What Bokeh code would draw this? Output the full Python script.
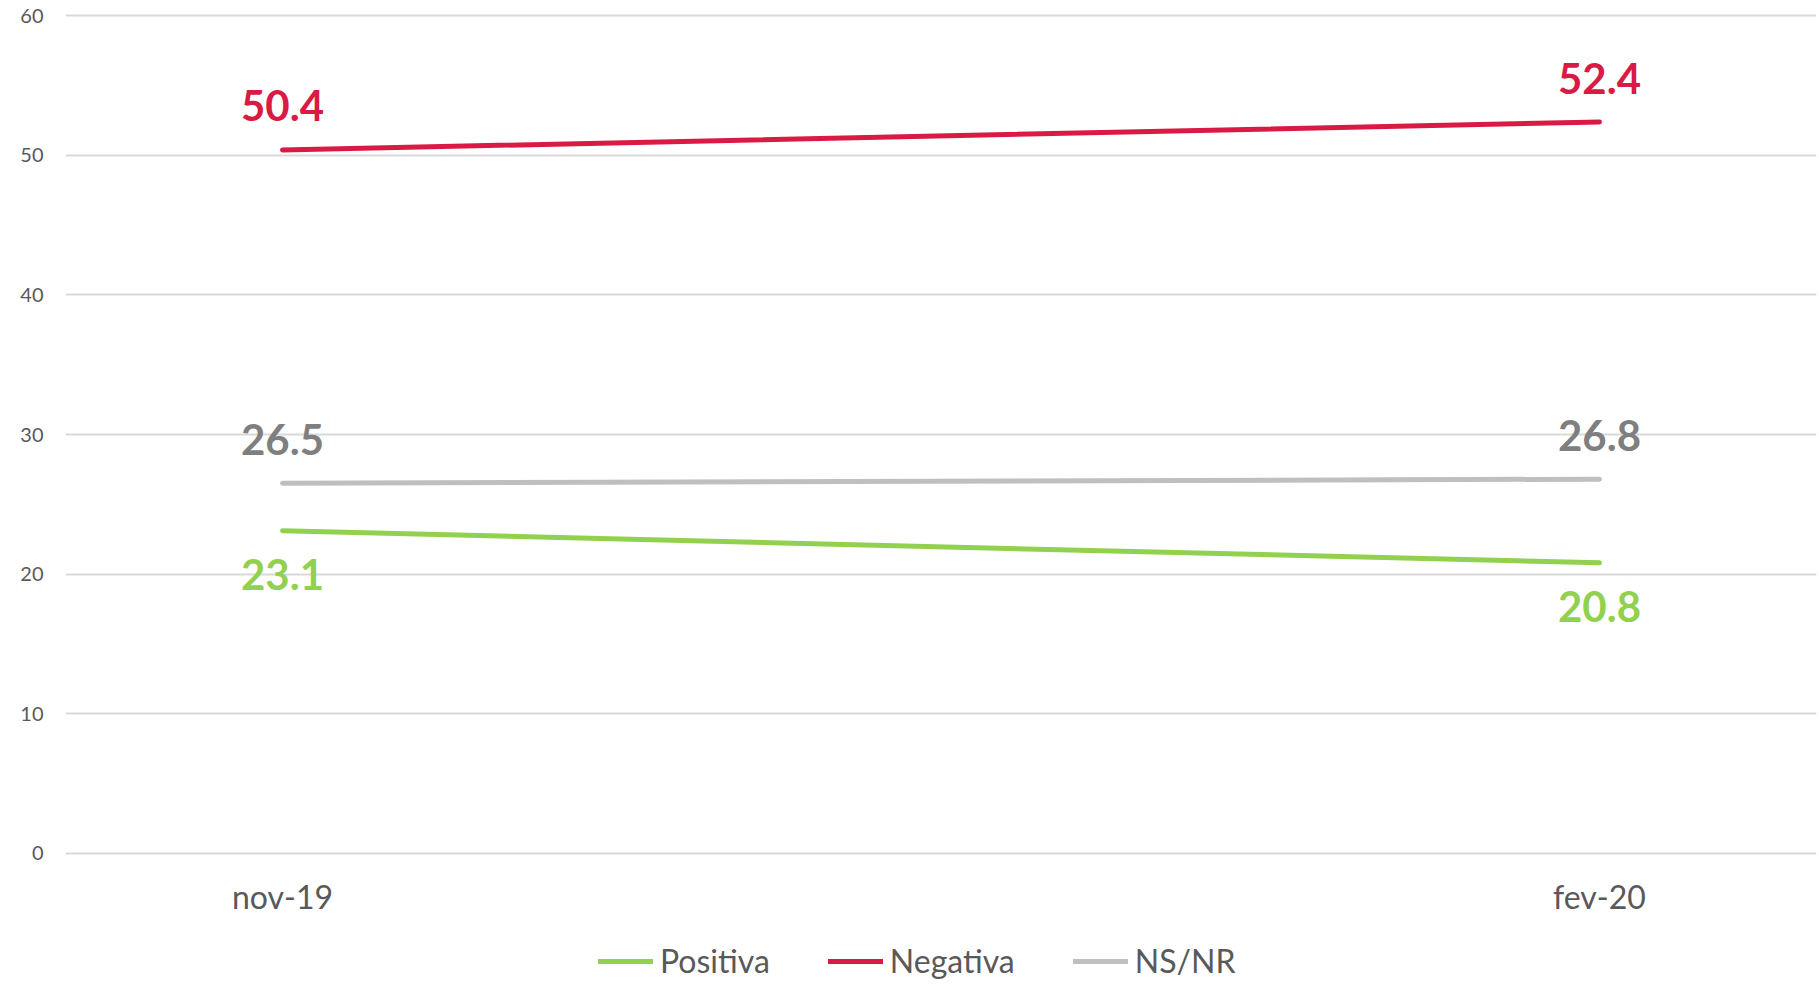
from bokeh.plotting import figure
from bokeh.models import Range1d, FixedTicker, Legend, LegendItem, ColumnDataSource
from bokeh.layouts import column
from bokeh.core.properties import value
from bokeh.embed import file_html
from bokeh.resources import INLINE

# ---- data ----
categories = ["nov-19", "fev-20"]
positiva = [23.1, 20.8]
negativa = [50.4, 52.4]
nsnr = [26.5, 26.8]
series_names = ["Positiva", "Negativa", "NS/NR"]
y_ticks = [0, 10, 20, 30, 40, 50, 60]

FONT = "Lato"
colors = {"Positiva": "#92D050", "Negativa": "#D91A44", "NS/NR": "#BFBFBF"}
label_colors = {"Positiva": "#92D050", "Negativa": "#D91A44", "NS/NR": "#7F7F7F"}
label_side = {"Positiva": 1, "Negativa": -1, "NS/NR": -1}  # -1 above, +1 below

xs = list(range(len(categories)))

p = figure(width=1819, height=926, output_backend="svg", toolbar_location=None,
           x_range=Range1d(-0.1648, 1.1648), y_range=Range1d(-0.25, 60.25),
           min_border_left=65, min_border_right=3, min_border_top=12, min_border_bottom=70)
p.outline_line_color = None
p.background_fill_color = "white"
p.border_fill_color = "white"

# axes
p.yaxis.ticker = FixedTicker(ticks=y_ticks)
p.yaxis.axis_line_color = None
p.yaxis.major_tick_line_color = None
p.yaxis.minor_tick_line_color = None
p.yaxis.major_tick_out = 0
p.yaxis.major_label_standoff = 22
p.yaxis.major_label_text_font = FONT
p.yaxis.major_label_text_font_size = "20px"
p.yaxis.major_label_text_color = "#595959"

p.xaxis.ticker = FixedTicker(ticks=xs)
p.xaxis.major_label_overrides = {i: c for i, c in zip(xs, categories)}
p.xaxis.axis_line_color = None
p.xaxis.major_tick_line_color = None
p.xaxis.minor_tick_line_color = None
p.xaxis.major_tick_out = 0
p.xaxis.major_label_standoff = 20
p.xaxis.major_label_text_font = FONT
p.xaxis.major_label_text_font_size = "32px"
p.xaxis.major_label_text_color = "#595959"

p.xgrid.grid_line_color = None
p.ygrid.grid_line_color = "#D9D9D9"
p.ygrid.grid_line_width = 2

data = {"Positiva": positiva, "Negativa": negativa, "NS/NR": nsnr}
for name in series_names:
    vals = data[name]
    src = ColumnDataSource(dict(x=xs, y=vals, t=[f"{v:.1f}" for v in vals]))
    p.line("x", "y", source=src, line_color=colors[name], line_width=5, line_cap="round")
    p.text("x", "y", text="t", source=src, text_font=value(FONT), text_font_style="bold",
           text_font_size="42px", text_color=label_colors[name], text_align="center",
           text_baseline="middle", y_offset=44 * label_side[name])

# legend in its own strip below the chart (frame is aligned with the chart's frame)
lg = figure(width=1819, height=60, output_backend="svg", toolbar_location=None,
            x_range=Range1d(0, 1), y_range=Range1d(0, 1),
            x_axis_location=None, y_axis_location=None,
            min_border_left=0, min_border_right=0, min_border_top=0, min_border_bottom=0)
lg.grid.grid_line_color = None
lg.outline_line_color = None
items = []
for name in series_names:
    # off-screen proxy line, used only for the legend swatch
    r = lg.line(x=[-5, -4], y=[-5, -5], line_color=colors[name], line_width=5, line_cap="round")
    items.append(LegendItem(label=name, renderers=[r]))

legend = Legend(items=items, orientation="horizontal", location=(533, 6))
legend.label_text_font = FONT
legend.label_text_font_size = "32px"
legend.label_text_color = "#595959"
legend.glyph_width = 55
legend.glyph_height = 30
legend.label_standoff = 7
legend.spacing = 58
legend.padding = 0
legend.margin = 0
legend.border_line_color = None
legend.background_fill_alpha = 0
lg.add_layout(legend, "center")

layout = column(p, lg, spacing=0)
open("out.html", "w").write(file_html(layout, INLINE))
